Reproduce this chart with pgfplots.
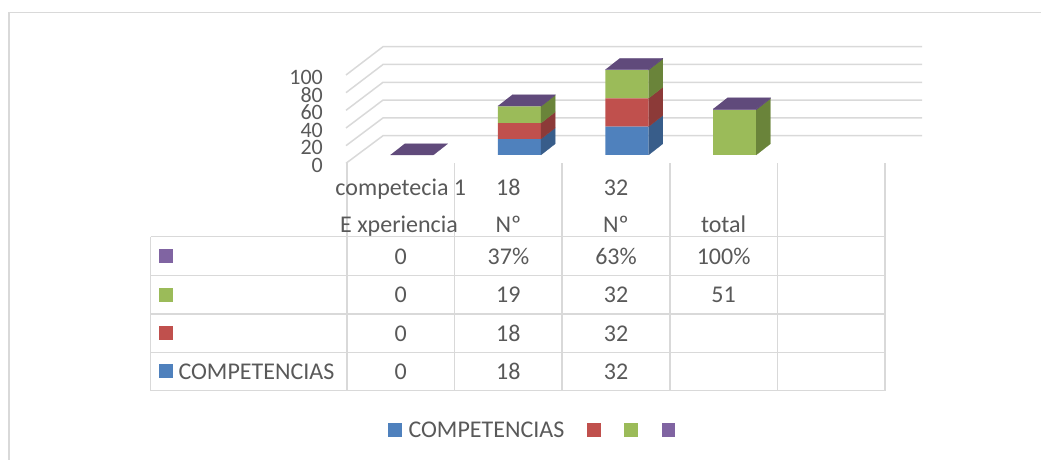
\documentclass[border=0pt]{standalone}
\usepackage{pgfplots}
\pgfplotsset{compat=1.18}
\usepackage{fontspec}
\setmainfont{Carlito}
\definecolor{cblue}{HTML}{4F81BD}
\definecolor{cblueS}{HTML}{385D8A}
\definecolor{cred}{HTML}{C0504D}
\definecolor{credS}{HTML}{8C3A38}
\definecolor{cgreen}{HTML}{9BBB59}
\definecolor{cgreenS}{HTML}{6A843A}
\definecolor{cpurple}{HTML}{8064A2}
\definecolor{cpurpleT}{HTML}{604A7B}
\definecolor{gridc}{HTML}{D9D9D9}
\definecolor{txt}{HTML}{595959}
\newcommand{\fs}{\fontsize{24}{24}\selectfont}
\begin{document}
\begin{tikzpicture}[x=1pt,y=1pt]
\path[use as bounding box] (0,0) rectangle (1041,460);
% border, back wall gridlines and diagonals
\begin{scope}[yshift=460pt,y=-1pt]
 \draw[gridc, line width=1.5pt] (9,461) -- (9,12.7) -- (1042,12.7);
 \foreach \v in {0,20,...,100} {
   \draw[gridc, line width=1.5pt] (346,{163.3-0.883*\v}) -- (383,{135.7-0.89*\v}) -- (922,{135.7-0.89*\v});
 }
\end{scope}
% front faces of the stacked bars
\begin{axis}[at={(325.72pt,305pt)}, anchor=south west, scale only axis,
  width=624.08pt, height=88.5pt,
  xmin=0.2, xmax=6, ymin=0, ymax=100, clip=false,
  axis line style={draw=none}, xtick=\empty, ytick={0,20,40,60,80,100},
  major tick length=0pt, tick style={draw=none},
  ybar stacked, bar width=0.4,
  /pgf/number format/assume math mode=true,
  yticklabel style={font=\fontsize{22}{22}\selectfont, text=txt, anchor=east, inner sep=0pt, xshift=-2.7pt, yshift=-10.5pt}]
\addplot[fill=cblue, draw=none] coordinates {(1,0) (2,18) (3,32) (4,0)};
\addplot[fill=cred, draw=none] coordinates {(1,0) (2,18) (3,32) (4,0)};
\addplot[fill=cgreen, draw=none] coordinates {(1,0) (2,19) (3,32) (4,51)};
\addplot[fill=cpurple, draw=none] coordinates {(1,0) (2,0.37) (3,0.63) (4,1)};
\end{axis}
% side and top faces
\begin{axis}[at={(325.72pt,305pt)}, anchor=south west, scale only axis,
  width=624.08pt, height=88.5pt,
  xmin=0.2, xmax=6, ymin=0, ymax=100, clip=false,
  axis line style={draw=none}, xtick=\empty, ytick=\empty]
% category 2
\addplot[fill=cblueS, draw=cblueS, line width=0.2pt] coordinates {(2.2,0) (2.3329,12.66) (2.3329,30.66) (2.2,18)};
\addplot[fill=credS, draw=credS, line width=0.2pt] coordinates {(2.2,18) (2.3329,30.66) (2.3329,48.66) (2.2,36)};
\addplot[fill=cgreenS, draw=cgreenS, line width=0.2pt] coordinates {(2.2,36) (2.3329,48.66) (2.3329,67.66) (2.2,55)};
\addplot[fill=cpurpleT, draw=cpurpleT, line width=0.2pt] coordinates {(2.2,55) (2.3329,67.66) (2.3329,68.03) (2.2,55.37)};
% category 3
\addplot[fill=cblueS, draw=cblueS, line width=0.2pt] coordinates {(3.2,0) (3.3329,12.66) (3.3329,44.66) (3.2,32)};
\addplot[fill=credS, draw=credS, line width=0.2pt] coordinates {(3.2,32) (3.3329,44.66) (3.3329,76.66) (3.2,64)};
\addplot[fill=cgreenS, draw=cgreenS, line width=0.2pt] coordinates {(3.2,64) (3.3329,76.66) (3.3329,108.66) (3.2,96)};
\addplot[fill=cpurpleT, draw=cpurpleT, line width=0.2pt] coordinates {(3.2,96) (3.3329,108.66) (3.3329,109.29) (3.2,96.63)};
% category 4
\addplot[fill=cgreenS, draw=cgreenS, line width=0.2pt] coordinates {(4.2,0) (4.3329,12.66) (4.3329,63.66) (4.2,51)};
\addplot[fill=cpurpleT, draw=cpurpleT, line width=0.2pt] coordinates {(4.2,51) (4.3329,63.66) (4.3329,64.66) (4.2,52)};
% top faces
\addplot[fill=cpurpleT, draw=cpurpleT, line width=0.2pt] coordinates {(0.8,0) (1.2,0) (1.3329,12.66) (0.9329,12.66)};
\addplot[fill=cpurpleT, draw=cpurpleT, line width=0.2pt] coordinates {(1.8,55.37) (2.2,55.37) (2.3329,68.03) (1.9329,68.03)};
\addplot[fill=cpurpleT, draw=cpurpleT, line width=0.2pt] coordinates {(2.8,96.63) (3.2,96.63) (3.3329,109.29) (2.9329,109.29)};
\addplot[fill=cpurpleT, draw=cpurpleT, line width=0.2pt] coordinates {(3.8,52) (4.2,52) (4.3329,64.66) (3.9329,64.66)};
\end{axis}
% data table and legend
\begin{scope}[yshift=460pt,y=-1pt]
 \foreach \X in {347,454.6,562.2,669.8,777.4,885} \draw[gridc,line width=1.5pt] (\X,163.3) -- (\X,390.7);
 \draw[gridc,line width=1.5pt] (150.7,236.7) -- (150.7,390.7);
 \foreach \Y in {236.7,275.7,314,352.3,390.7} \draw[gridc,line width=1.5pt] (150.7,\Y) -- (885,\Y);
 \begin{scope}[every node/.style={font=\fs, text=txt, anchor=base, inner sep=0pt}]
  \node at (400.8,196) {competecia 1};
  \node at (508.4,196) {18};
  \node at (616,196) {32};
  \node at (399,233) {E xperiencia};
  \node at (508.4,233) {Nº};
  \node at (616,233) {Nº};
  \node at (723.6,233) {total};
  % purple row
  \node at (400.8,264.2) {0};
  \node at (508.4,264.2) {37\%};
  \node at (616,264.2) {63\%};
  \node at (723.6,264.2) {100\%};
  % green row
  \node at (400.8,302.9) {0};
  \node at (508.4,302.9) {19};
  \node at (616,302.9) {32};
  \node at (723.6,302.9) {51};
  % red row
  \node at (400.8,341.2) {0};
  \node at (508.4,341.2) {18};
  \node at (616,341.2) {32};
  % blue row
  \node at (400.8,379.5) {0};
  \node at (508.4,379.5) {18};
  \node at (616,379.5) {32};
  \node[anchor=base west] at (178.3,379.5) {COMPETENCIAS};
  % legend
  \node[anchor=base west] at (408.3,437.7) {COMPETENCIAS};
 \end{scope}
 % table keys
 \fill[cpurple] (159,249.2) rectangle (173,263.2);
 \fill[cgreen] (159,287.9) rectangle (173,301.9);
 \fill[cred] (159,326.2) rectangle (173,340.2);
 \fill[cblue] (159,364.5) rectangle (173,378.5);
 % legend keys
 \fill[cblue] (388.3,423.3) rectangle (401.7,436.7);
 \fill[cred] (587.3,423.3) rectangle (600.7,436.7);
 \fill[cgreen] (624.3,423.3) rectangle (637.7,436.7);
 \fill[cpurple] (661.7,423.3) rectangle (675,436.7);
\end{scope}
\end{tikzpicture}
\end{document}
